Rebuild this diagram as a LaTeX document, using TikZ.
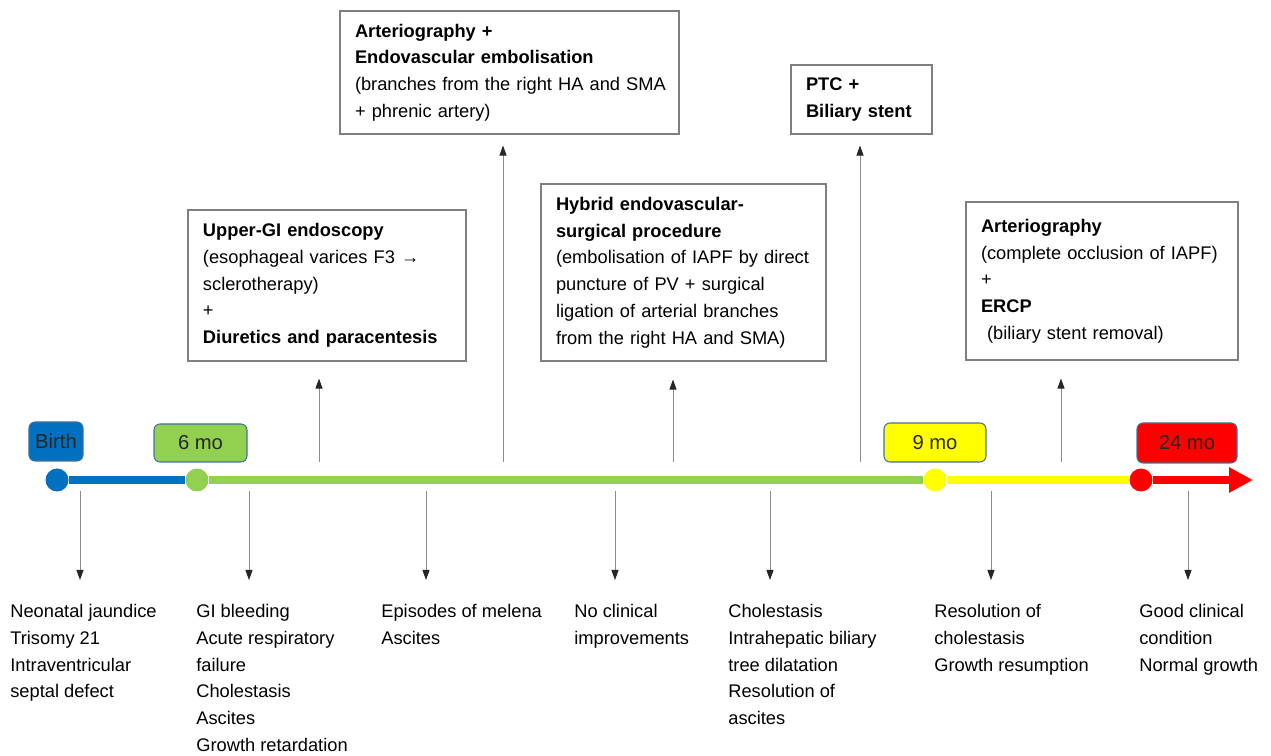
\documentclass[tikz,border=0pt]{standalone}
\usepackage{fontspec}
\setmainfont{Liberation Sans}
\usetikzlibrary{arrows.meta}
\definecolor{tlblue}{HTML}{0070C0}
\definecolor{tlgreen}{HTML}{92D050}
\definecolor{tlyellow}{HTML}{FFFF00}
\definecolor{tlred}{HTML}{FF0000}
\definecolor{tagedge}{HTML}{41719C}
\definecolor{boxedge}{HTML}{7F7F7F}
\begin{document}
\begin{tikzpicture}[x=0.2mm,y=-0.2mm,
    every node/.style={font=\fontsize{10.4}{15.2}\selectfont},
    event/.style={draw=boxedge,line width=0.6pt,inner xsep=3mm,inner ysep=0pt,align=left},
    tag/.style={draw=tagedge,line width=0.6pt,rounded corners=1.2mm,inner sep=0pt,font=\fontsize{11.5}{13}\selectfont,text=black!85},
    dot/.style={circle,inner sep=0pt,minimum size=4.6mm},
    finding/.style={anchor=north west,inner sep=0pt,align=left},
    uparr/.style={draw=black!45,line width=0.5pt,-{Triangle[length=2mm,width=1.4mm,color=black!85]}},
    dnarr/.style={uparr,shorten >=4.8mm},
    seg/.style={line width=1.6mm}]
    \useasboundingbox (0,0) rectangle (1271,756);
    \node[dot,fill=tlblue] (birth) at (57,480) {};
    \node[dot,fill=tlgreen] (m6) at (197,480) {};
    \node[dot,fill=tlyellow] (m9) at (935,480) {};
    \node[dot,fill=tlred] (m24) at (1141,480) {};
    \coordinate (tend) at (1253,480);
    \draw[seg,tlblue] (birth) -- (m6);
    \draw[seg,tlgreen] (m6) -- (m9);
    \draw[seg,tlyellow] (m9) -- (m24);
    \draw[seg,tlred,-{Triangle[length=4.8mm,width=4.8mm]}] (m24) -- (tend);
    \node[tag,fill=tlblue,minimum width=10.8mm,minimum height=7.8mm] (tbirth) at (56,441.5) {Birth};
    \node[tag,fill=tlgreen,minimum width=18.6mm,minimum height=7.6mm] (t6) at (200.5,443) {6 mo};
    \node[tag,fill=tlyellow,minimum width=20.4mm,minimum height=7.8mm] (t9) at (935,442.5) {9 mo};
    \node[tag,fill=tlred,minimum width=20mm,minimum height=8mm] (t24) at (1187,443) {24 mo};
    \node[event,text width=49.6mm,minimum height=30.2mm] (gi) at (327,285.5)
        {\textbf{Upper-GI endoscopy}\\(esophageal varices F3 →\\sclerotherapy)\\+\\\textbf{Diuretics and paracentesis}};
    \node[event,text width=61.8mm,minimum height=24.6mm] (emb) at (509.5,72.5)
        {\textbf{Arteriography +}\\\textbf{Endovascular embolisation}\\\makebox[\linewidth][l]{(branches from the right HA and SMA}\\+ phrenic artery)};
    \node[event,text width=51mm,minimum height=35.4mm] (hyb) at (683.5,272.5)
        {\textbf{Hybrid endovascular-}\\\textbf{surgical procedure}\\(embolisation of IAPF by direct\\puncture of PV + surgical\\ligation of arterial branches\\from the right HA and SMA)};
    \node[event,text width=22.2mm,minimum height=13.8mm] (ptc) at (861.5,99.5)
        {\textbf{PTC +}\\\textbf{Biliary stent}};
    \node[event,text width=48.4mm,minimum height=31.6mm] (art) at (1102,281)
        {\textbf{Arteriography}\\(complete occlusion of IAPF)\\+\\\textbf{ERCP}\\\ (biliary stent removal)};
    \node[finding] (f1) at (10,604) {Neonatal jaundice\\Trisomy 21\\Intraventricular\\septal defect};
    \node[finding] (f2) at (196,604) {GI bleeding\\Acute respiratory\\failure\\Cholestasis\\Ascites\\Growth retardation};
    \node[finding] (f3) at (381,604) {Episodes of melena\\Ascites};
    \node[finding] (f4) at (574,604) {No clinical\\improvements};
    \node[finding] (f5) at (728,604) {Cholestasis\\Intrahepatic biliary\\tree dilatation\\Resolution of\\ascites};
    \node[finding] (f6) at (934,604) {Resolution of\\cholestasis\\Growth resumption};
    \node[finding] (f7) at (1139,604) {Good clinical\\condition\\Normal growth};
    \coordinate (u1) at (319,462);
    \coordinate (u2) at (503,462);
    \coordinate (u3) at (673,462);
    \coordinate (u4) at (860,462);
    \coordinate (u5) at (1061,462);
    \draw[uparr,shorten >=3.4mm] (u1) -- (u1 |- gi.south);
    \draw[uparr,shorten >=2.2mm] (u2) -- (u2 |- emb.south);
    \draw[uparr,shorten >=3.6mm] (u3) -- (u3 |- hyb.south);
    \draw[uparr,shorten >=2.2mm] (u4) -- (u4 |- ptc.south);
    \draw[uparr,shorten >=3.6mm] (u5) -- (u5 |- art.south);
    \coordinate (d1) at (80,491);
    \coordinate (d2) at (249,491);
    \coordinate (d3) at (426,491);
    \coordinate (d4) at (615,491);
    \coordinate (d5) at (770,491);
    \coordinate (d6) at (991,491);
    \coordinate (d7) at (1188,491);
    \draw[dnarr] (d1) -- (d1 |- f1.north);
    \draw[dnarr] (d2) -- (d2 |- f2.north);
    \draw[dnarr] (d3) -- (d3 |- f3.north);
    \draw[dnarr] (d4) -- (d4 |- f4.north);
    \draw[dnarr] (d5) -- (d5 |- f5.north);
    \draw[dnarr] (d6) -- (d6 |- f6.north);
    \draw[dnarr] (d7) -- (d7 |- f7.north);
\end{tikzpicture}
\end{document}
